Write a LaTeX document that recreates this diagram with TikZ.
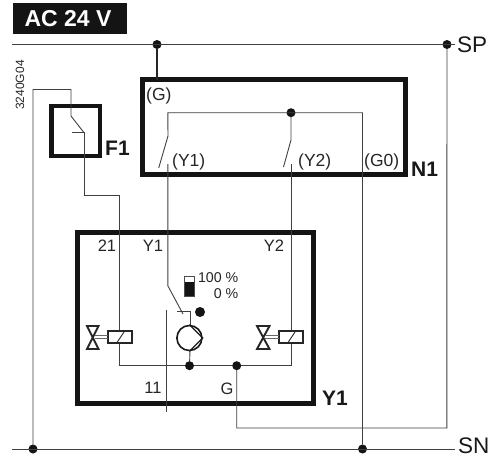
\documentclass[tikz,border=0pt]{standalone}
\usepackage{fontspec}
\setmainfont{Liberation Sans}
\usepackage{tikz}
\usetikzlibrary{calc, positioning}

\tikzset{
    wire/.style={line width=0.9pt, black!75},
    heavybox/.style={draw=black!92, line width=5pt, inner sep=0pt, outer sep=0pt},
    junction/.style={circle, fill=black!92, inner sep=0pt, outer sep=0pt, minimum size=9pt},
    coil/.style={draw=black!85, fill=white, line width=1.4pt, inner sep=0pt, outer sep=0pt, minimum width=24pt, minimum height=12pt},
    valve/.style={draw=black!85, line width=1.9pt, line join=miter},
    term/.style={font=\fontsize{17.5}{18}\selectfont, text=black!85, inner sep=0pt},
    port/.style={font=\fontsize{16.5}{17}\selectfont, text=black!85, inner sep=0pt},
    bigterm/.style={font=\fontsize{22.5}{23}\selectfont, text=black!90, inner sep=0pt},
    devname/.style={font=\fontsize{21}{21}\selectfont\bfseries, text=black!90, inner sep=0pt},
}

\begin{document}
\begin{tikzpicture}[x=1pt, y=-1pt]
    \useasboundingbox (0,0) rectangle (499,459);
    \fill[white] (0,0) rectangle (499,459);

    % === Title ===
    \node[fill=black!92, text=white, font=\fontsize{23}{23}\selectfont\bfseries, inner sep=0pt, minimum width=114pt, minimum height=31pt] (title) at (70,18.5) {\kern-4pt AC 24 V};
    \node[rotate=90, font=\fontsize{12}{12}\selectfont, text=black!85, inner sep=0pt] (docnum) at (20,85) {3240G04};

    % === Devices ===
    \node[heavybox, minimum width=263pt, minimum height=95pt] (N1) at (274,127) {};
    \node[heavybox, line width=4.5pt, minimum width=48.5pt, minimum height=50pt] (F1) at (75.75,131) {};
    \node[heavybox, minimum width=236pt, minimum height=171pt] (Y1) at (195.6,318) {};

    % === Junctions ===
    \node[junction] (dotG) at (157,44.5) {};
    \node[junction] (dotSP) at (447,44.5) {};
    \node[junction] (dotY) at (291,112.7) {};
    \node[junction] (dotF) at (33,449) {};
    \node[junction] (dotGzero) at (362.5,449) {};
    \node[junction] (dotPump) at (189.5,365.7) {};
    \node[junction] (dotCom) at (236.7,365.7) {};
    \node[junction, minimum size=10pt] (dotPos) at (200,312) {};

    % === Supply rails ===
    \coordinate (spStart) at (12,44.5);
    \coordinate (spEnd) at (455,44.5);
    \coordinate (snStart) at (12,449);
    \coordinate (snEnd) at (455,449);
    \draw[wire] (spStart) -- (spEnd);
    \draw[wire] (snStart) -- (snEnd);
    \draw[wire, line width=1.4pt, black!85] (dotG) -- (dotG |- N1.north);
    \coordinate (spDown) at (446.8,428);
    \draw[wire] (dotSP) -- (spDown) -- (spDown -| dotCom) -- (dotCom);

    % === F1 contact ===
    \coordinate (fIn) at (71,116);
    \coordinate (fBlade) at (83.5,132);
    \coordinate (fStop) at (72,132);
    \coordinate (fOut) at (84,195);
    \coordinate (vOne) at (119,195);
    \draw[wire] (dotF) -- (33,89.5) -| (fIn) -- (fBlade);
    \draw[wire] (fStop) -- (84,132) -- (fOut) -| (vOne);
    \draw[wire] (vOne) -- (119,365.7) -- (dotPump);
    \draw[wire] (dotPump) -- (dotCom) -- (291,365.7) -- (291,164);

    % === N1 contacts ===
    \coordinate (cOne) at (167.8,112.7);
    \coordinate (cTwo) at (362.5,112.7);
    \draw[wire] (168,136) -- (cOne) -- (cTwo) -- (dotGzero);
    \draw[wire] (168,136) -- (158.7,168);
    \draw[wire] (dotY) -- (291,140) -- (283.5,167);

    % === Y1 line and actuator switch ===
    \draw[wire] (167.8,164) -- (167.8,285.7) -- (183,314);
    \draw[wire] (166.3,310) -- (166.3,412);
    \draw[wire] (177,311) -- (190,311) -- (190,326);
    \draw[wire] (190,350) -- (dotPump);

    % === Pump ===
    \node[circle, draw=black!90, fill=white, line width=1.6pt, inner sep=0pt, minimum size=25pt] (pump) at (189.4,338) {};
    \draw[black!90, line width=1.3pt] (pump.north) -- (pump.east) -- (pump.south);

    % === Position indicator ===
    \node[draw=black!70, fill=black!92, line width=0.8pt, inner sep=0pt, minimum width=10pt, minimum height=20pt] (bar) at (189.6,286.7) {};
    \fill[white] (185.2,277.4) rectangle (194,282);

    % === Valves ===
    \node[coil] (coilL) at (120,337) {};
    \node[coil] (coilR) at (291,337) {};
    \draw[black!85, line width=0.9pt] (117,342.5) -- (124,332);
    \draw[black!85, line width=0.9pt] (288,342.5) -- (295,332);
    \draw[valve] (87,326) -- (98.5,326) -- (87,349) -- (98.5,349) -- cycle;
    \draw[valve] (257,326) -- (269.5,326) -- (257,349) -- (269.5,349) -- cycle;
    \draw[black!60, line width=0.9pt] (95,335.5) -- (coilL.west |- 0,335.5) (95,338.5) -- (coilL.west |- 0,338.5);
    \draw[black!60, line width=0.9pt] (265,335.5) -- (coilR.west |- 0,335.5) (265,338.5) -- (coilR.west |- 0,338.5);

    % === Labels ===
    \node[term, anchor=west] (lblG) at (146,96) {(G)};
    \node[term, anchor=west] (lblYone) at (172,162) {(Y1)};
    \node[term, anchor=west] (lblYtwo) at (298,162) {(Y2)};
    \node[term, anchor=west] (lblGzero) at (364,162) {(G0)};
    \node[port] (lblTwoOne) at (107,246) {21};
    \node[port] (lblPortY) at (153,246) {Y1};
    \node[port] (lblPortYtwo) at (274,246) {Y2};
    \node[port] (lblEleven) at (153,388) {11};
    \node[port] (lblPortG) at (227,389) {G};
    \node[port, font=\fontsize{14.2}{15}\selectfont, anchor=east] (lblHundred) at (238.5,278) {100 \%};
    \node[port, font=\fontsize{14.2}{15}\selectfont, anchor=east] (lblZero) at (238.5,294) {0 \%};
    \node[bigterm, anchor=west] (lblSP) at (457,44.5) {SP};
    \node[bigterm, anchor=west] (lblSN) at (458,446) {SN};
    \node[devname, anchor=west] (lblFone) at (105,148) {F1};
    \node[devname, anchor=west] (lblNone) at (411,169.5) {N1};
    \node[devname, anchor=west] (lblYdev) at (322,398) {Y1};
\end{tikzpicture}
\end{document}
